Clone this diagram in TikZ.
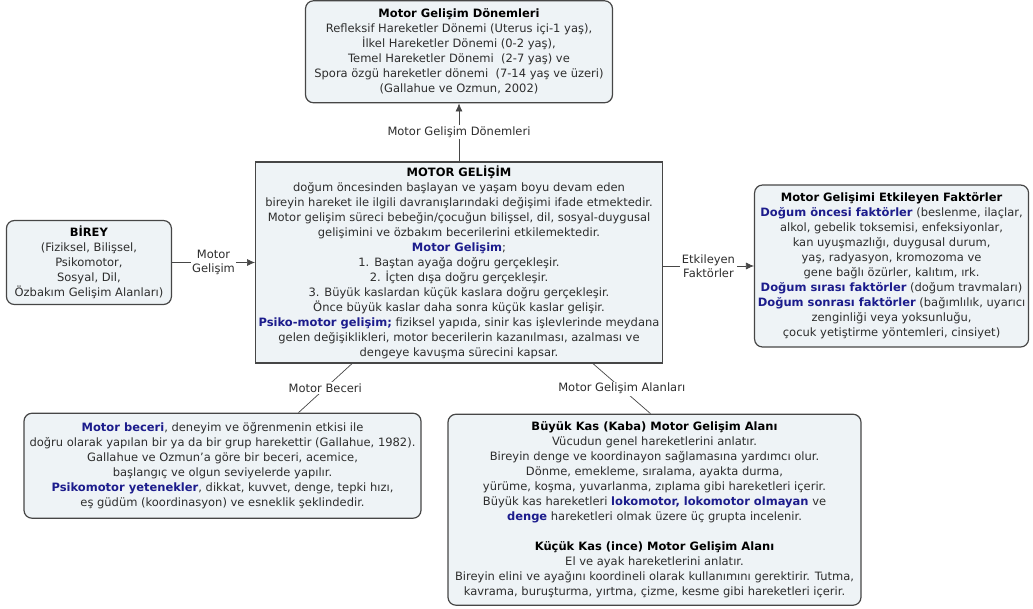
\documentclass[tikz,border=0pt]{standalone}
\usepackage{fontspec}
\setmainfont{DejaVu Sans}
\usetikzlibrary{arrows.meta,positioning}
\definecolor{boxfill}{RGB}{238,243,246}
\definecolor{boxline}{RGB}{70,70,70}
\definecolor{keyblue}{RGB}{28,28,140}
\definecolor{textgray}{RGB}{45,45,45}
\newcommand{\kb}[1]{\textcolor{keyblue}{\textbf{#1}}}
\newcommand{\ttl}[1]{\textcolor{black}{\textbf{#1}}}

\begin{document}
\begin{tikzpicture}[
    x=1pt, y=-1pt,
    concept/.style={rectangle, rounded corners=8pt, draw=boxline, line width=1.2pt, fill=boxfill, align=center, inner xsep=3pt, inner ysep=4pt, text=textgray, font=\fontsize{11.5}{15}\selectfont},
    mainconcept/.style={concept, rounded corners=0pt},
    link/.style={draw=boxline, line width=0.7pt},
    linklabel/.style={fill=white, inner sep=1.5pt, text=textgray, font=\fontsize{11.5}{14}\selectfont, align=center},
    >={Latex[length=8pt,width=7pt]}
]
\useasboundingbox (0,0) rectangle (1033,608);

\node[mainconcept, minimum width=406pt, minimum height=199pt] (gelisim) at (459,262.5) {\ttl{MOTOR GELİŞİM}\\ doğum öncesinden başlayan ve yaşam boyu devam eden\\ bireyin hareket ile ilgili davranışlarındaki değişimi ifade etmektedir.\\ Motor gelişim süreci bebeğin/çocuğun bilişsel, dil, sosyal-duygusal\\ gelişimini ve özbakım becerilerini etkilemektedir.\\ \kb{Motor Gelişim};\\ 1. Baştan ayağa doğru gerçekleşir.\\ 2. İçten dışa doğru gerçekleşir.\\ 3. Büyük kaslardan küçük kaslara doğru gerçekleşir.\\ Önce büyük kaslar daha sonra küçük kaslar gelişir.\\ \kb{Psiko-motor gelişim;} fiziksel yapıda, sinir kas işlevlerinde meydana\\ gelen değişiklikleri, motor becerilerin kazanılması, azalması ve\\ dengeye kavuşma sürecini kapsar.};
\node[concept, minimum width=307pt, minimum height=102pt, above=58pt of gelisim] (donemler) {\ttl{Motor Gelişim Dönemleri}\\ Refleksif Hareketler Dönemi (Uterus içi-1 yaş),\\ İlkel Hareketler Dönemi (0-2 yaş),\\ Temel Hareketler Dönemi~~(2-7 yaş) ve\\ Spora özgü hareketler dönemi~~(7-14 yaş ve üzeri)\\ (Gallahue ve Ozmun, 2002)};
\node[concept, minimum width=165pt, minimum height=84pt, left=83pt of gelisim] (birey) {\ttl{BİREY}\\ (Fiziksel, Bilişsel,\\ Psikomotor,\\ Sosyal, Dil,\\ Özbakım Gelişim Alanları)};
\node[concept, minimum width=274pt, minimum height=162pt, right=91pt of gelisim, yshift=-3.5pt] (faktorler) {\ttl{Motor Gelişimi Etkileyen Faktörler}\\ \kb{Doğum öncesi faktörler} (beslenme, ilaçlar,\\ alkol, gebelik toksemisi, enfeksiyonlar,\\ kan uyuşmazlığı, duygusal durum,\\ yaş, radyasyon, kromozoma ve\\ gene bağlı özürler, kalıtım, ırk.\\ \kb{Doğum sırası faktörler} (doğum travmaları)\\ \kb{Doğum sonrası faktörler} (bağımlılık, uyarıcı\\ zenginliği veya yoksunluğu,\\ çocuk yetiştirme yöntemleri, cinsiyet)};
\node[concept, minimum width=397pt, minimum height=105pt, below=49pt of gelisim, xshift=-236.5pt] (beceri) {\kb{Motor beceri}, deneyim ve öğrenmenin etkisi ile\\ doğru olarak yapılan bir ya da bir grup harekettir (Gallahue, 1982).\\ Gallahue ve Ozmun’a göre bir beceri, acemice,\\ başlangıç ve olgun seviyelerde yapılır.\\ \kb{Psikomotor yetenekler}, dikkat, kuvvet, denge, tepki hızı,\\ eş güdüm (koordinasyon) ve esneklik şeklindedir.};
\node[concept, minimum width=413pt, minimum height=191pt, below=50pt of gelisim, xshift=195.5pt] (alanlar) {\ttl{Büyük Kas (Kaba) Motor Gelişim Alanı}\\ Vücudun genel hareketlerini anlatır.\\ Bireyin denge ve koordinayon sağlamasına yardımcı olur.\\ Dönme, emekleme, sıralama, ayakta durma,\\ yürüme, koşma, yuvarlanma, zıplama gibi hareketleri içerir.\\ Büyük kas hareketleri \kb{lokomotor, lokomotor olmayan} ve\\ \kb{denge} hareketleri olmak üzere üç grupta incelenir.\\[15pt] \ttl{Küçük Kas (ince) Motor Gelişim Alanı}\\ El ve ayak hareketlerini anlatır.\\ Bireyin elini ve ayağını koordineli olarak kullanımını gerektirir. Tutma,\\ kavrama, buruşturma, yırtma, çizme, kesme gibi hareketleri içerir.};

\draw[link, ->] (gelisim) -- node[linklabel] {Motor Gelişim Dönemleri} (donemler);
\draw[link, ->] (birey) -- node[linklabel] {Motor\\Gelişim} (gelisim);
\draw[link, ->] (gelisim.east |- faktorler.west) -- node[linklabel] {Etkileyen\\Faktörler} (faktorler.west);
\draw[link] ([xshift=-107pt]gelisim.south) -- node[linklabel] {Motor Beceri} ([xshift=76pt]beceri.north);
\draw[link] ([xshift=134pt]gelisim.south) -- node[linklabel] {Motor Gelişim Alanları} ([xshift=-4pt]alanlar.north);

\end{tikzpicture}
\end{document}
